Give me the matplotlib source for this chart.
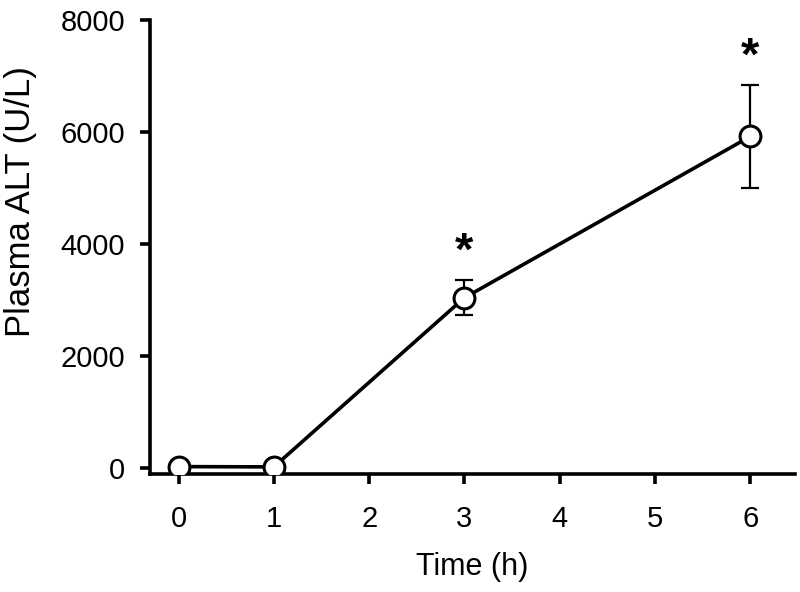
import matplotlib
matplotlib.use('Agg')
import matplotlib.pyplot as plt

plt.rcParams['font.family'] = ['Liberation Sans', 'DejaVu Sans']

# data
time_h = [0, 1, 3, 6]
alt_mean = [25, 20, 3040, 5920]
alt_sem = [0, 0, 310, 920]
signif = [False, False, True, True]
xticks = [0, 1, 2, 3, 4, 5, 6]
yticks = [0, 2000, 4000, 6000, 8000]

fig = plt.figure(figsize=(8, 5.92), dpi=100)
ax = fig.add_axes([150 / 800, 1 - 474 / 592, 645 / 800, 454 / 592])

ax.errorbar(time_h, alt_mean, yerr=alt_sem, fmt='none', ecolor='black',
            elinewidth=1.6, capsize=6.5, capthick=1.6, zorder=2)
ax.plot(time_h, alt_mean, color='black', lw=2.6, marker='o', ms=15,
        mfc='white', mec='black', mew=2.2, zorder=3)

# significance stars above the error bars
for x, m, s, sig in zip(time_h, alt_mean, alt_sem, signif):
    if sig:
        ax.annotate('*', xy=(x, m + s), xytext=(0, 4), textcoords='offset points',
                    ha='center', va='bottom', fontsize=34, fontweight='bold')

ax.set_xlim(-0.30, 6.47)
ax.set_ylim(-107, 8000)
ax.set_xticks(xticks)
ax.set_yticks(yticks)

for side in ['top', 'right']:
    ax.spines[side].set_visible(False)
for side in ['left', 'bottom']:
    ax.spines[side].set_linewidth(2.6)

ax.tick_params(axis='both', direction='out', length=7, width=2.6, labelsize=21)
ax.tick_params(axis='x', pad=15)
ax.tick_params(axis='y', pad=11)

ax.set_xlabel('Time (h)', fontsize=22, labelpad=14)
ax.set_ylabel('Plasma ALT (U/L)', fontsize=25)
# label sits above the axes centre in the original
ax.yaxis.set_label_coords(-0.175, 0.60)

plt.savefig('out.png', dpi=100)
